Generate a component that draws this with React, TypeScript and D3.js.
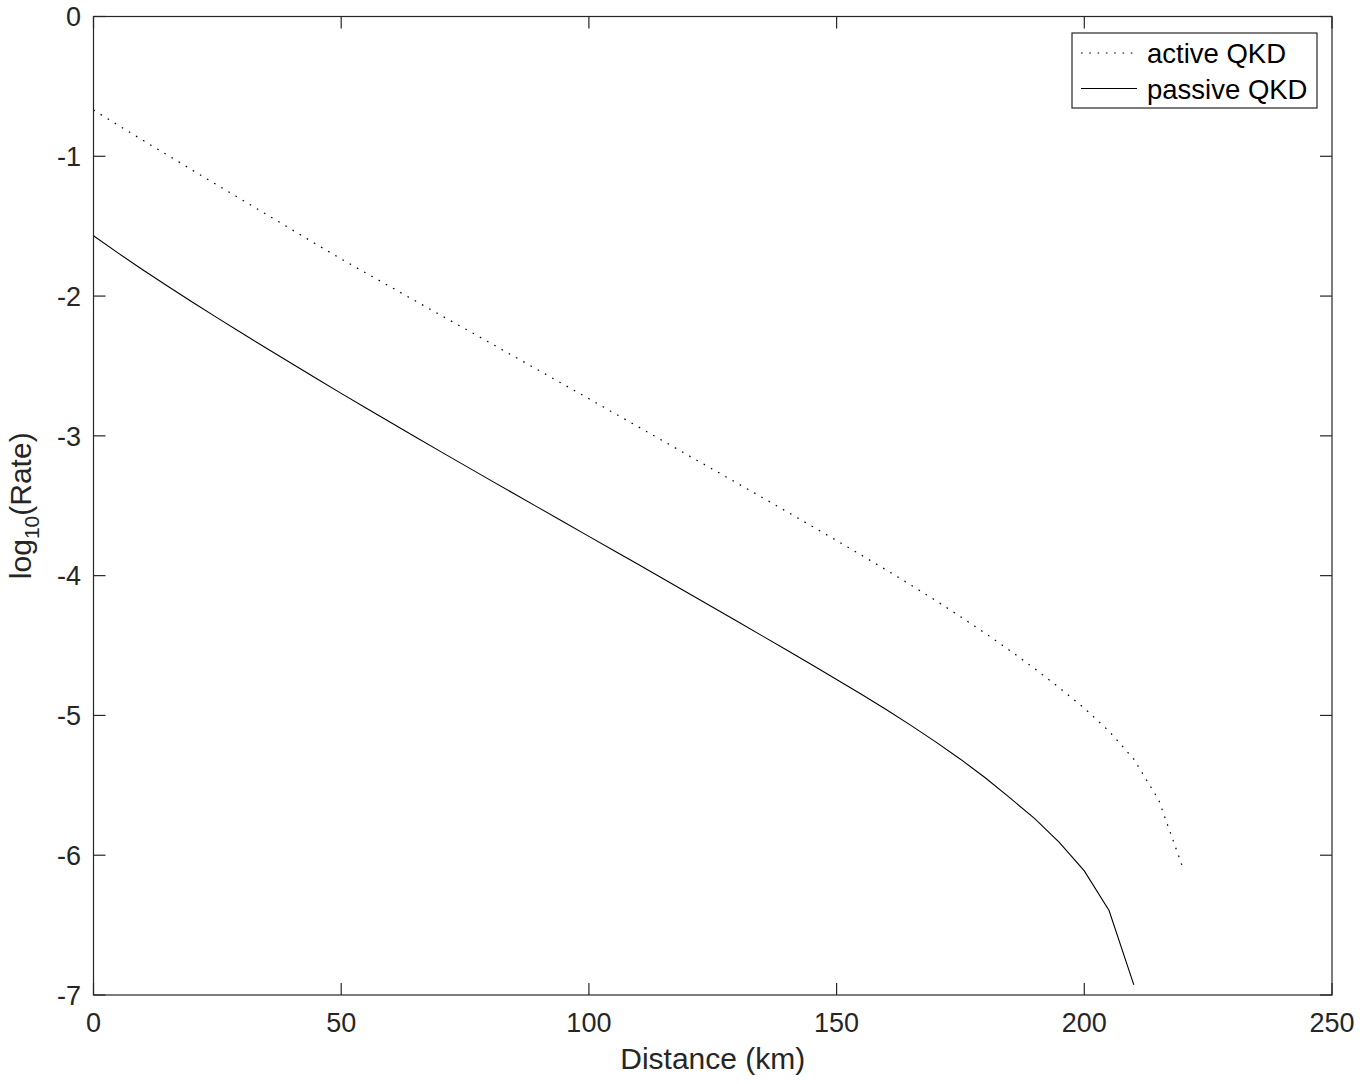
import React from "react";
import * as d3 from "d3";

const activeDistance = [0,5,10,15,20,25,30,35,40,45,50,55,60,65,70,75,80,85,90,95,100,105,110,115,120,125,130,135,140,145,150,155,160,165,170,175,180,185,190,195,200,205,210,215,220];
const activeRate = [-0.669,-0.778,-0.886,-0.993,-1.100,-1.206,-1.312,-1.418,-1.524,-1.630,-1.735,-1.835,-1.935,-2.035,-2.135,-2.234,-2.334,-2.434,-2.534,-2.634,-2.734,-2.835,-2.936,-3.037,-3.138,-3.239,-3.340,-3.441,-3.543,-3.646,-3.749,-3.853,-3.959,-4.067,-4.178,-4.293,-4.412,-4.536,-4.666,-4.803,-4.948,-5.113,-5.313,-5.603,-6.100];

const passiveDistance = [0,5,10,15,20,25,30,35,40,45,50,55,60,65,70,75,80,85,90,95,100,105,110,115,120,125,130,135,140,145,150,155,160,165,170,175,180,185,190,195,200,205,210];
const passiveRate = [-1.568,-1.693,-1.813,-1.930,-2.044,-2.156,-2.266,-2.375,-2.483,-2.590,-2.696,-2.801,-2.905,-3.008,-3.111,-3.213,-3.315,-3.416,-3.517,-3.618,-3.719,-3.820,-3.921,-4.022,-4.124,-4.226,-4.328,-4.431,-4.534,-4.638,-4.743,-4.849,-4.958,-5.071,-5.189,-5.313,-5.446,-5.590,-5.738,-5.910,-6.112,-6.396,-6.928];

const xTicks = [0, 50, 100, 150, 200, 250];
const yTicks = [0, -1, -2, -3, -4, -5, -6, -7];
const legendLabels = ["active QKD", "passive QKD"];

const W = 1362;
const H = 1084;
const left = 93.5;
const right = 1332;
const top = 16.5;
const bottom = 995;
const FONT = "'Liberation Sans', Arial, Helvetica, sans-serif";
const AX = "#262626";

export default function App() {
  const x = d3.scaleLinear().domain([0, 250]).range([left, right]);
  const y = d3.scaleLinear().domain([-7, 0]).range([bottom, top]);
  const line = d3
    .line<[number, number]>()
    .x((d) => x(d[0]))
    .y((d) => y(d[1]));
  const activePts: [number, number][] = activeDistance.map((d, i) => [d, activeRate[i]]);
  const passivePts: [number, number][] = passiveDistance.map((d, i) => [d, passiveRate[i]]);
  const tl = 12;

  return (
    <svg
      width={W}
      height={H}
      style={{ position: "absolute", top: 0, left: 0, background: "#fff" }}
      fontFamily={FONT}
    >
      <rect x={0} y={0} width={W} height={H} fill="#fff" />
      <path d={line(activePts) || ""} fill="none" stroke="#000" strokeWidth={1.2} strokeDasharray="1.6 6.7" />
      <path d={line(passivePts) || ""} fill="none" stroke="#000" strokeWidth={1.1} />

      <rect x={left} y={top} width={right - left} height={bottom - top} fill="none" stroke={AX} strokeWidth={1.2} />

      {xTicks.map((t) => (
        <g key={"x" + t}>
          <line x1={x(t)} x2={x(t)} y1={bottom} y2={bottom - tl} stroke={AX} strokeWidth={1.2} />
          <line x1={x(t)} x2={x(t)} y1={top} y2={top + tl} stroke={AX} strokeWidth={1.2} />
          <text x={x(t)} y={1032} textAnchor="middle" fontSize={27} fill={AX}>
            {t}
          </text>
        </g>
      ))}
      {yTicks.map((t) => (
        <g key={"y" + t}>
          <line x1={left} x2={left + tl} y1={y(t)} y2={y(t)} stroke={AX} strokeWidth={1.2} />
          <line x1={right} x2={right - tl} y1={y(t)} y2={y(t)} stroke={AX} strokeWidth={1.2} />
          <text x={81} y={y(t)} dy="0.36em" textAnchor="end" fontSize={27} fill={AX}>
            {t}
          </text>
        </g>
      ))}

      <text x={(left + right) / 2} y={1069} textAnchor="middle" fontSize={30} fill={AX}>
        Distance (km)
      </text>
      <text transform={`translate(31, ${(top + bottom) / 2}) rotate(-90)`} textAnchor="middle" fontSize={30} fill={AX}>
        log
        <tspan fontSize={21} dy={8}>10</tspan>
        <tspan dy={-8}>(Rate)</tspan>
      </text>

      <rect x={1072} y={33} width={245} height={75} fill="#fff" stroke={AX} strokeWidth={1.2} />
      <line x1={1081} x2={1137} y1={53} y2={53} stroke="#000" strokeWidth={1.2} strokeDasharray="1.6 6.7" />
      <line x1={1081} x2={1137} y1={88.5} y2={88.5} stroke="#000" strokeWidth={1.1} />
      <text x={1147} y={53} dy="0.36em" fontSize={27.5} fill="#000">
        {legendLabels[0]}
      </text>
      <text x={1147} y={89} dy="0.36em" fontSize={27.5} fill="#000">
        {legendLabels[1]}
      </text>
    </svg>
  );
}
